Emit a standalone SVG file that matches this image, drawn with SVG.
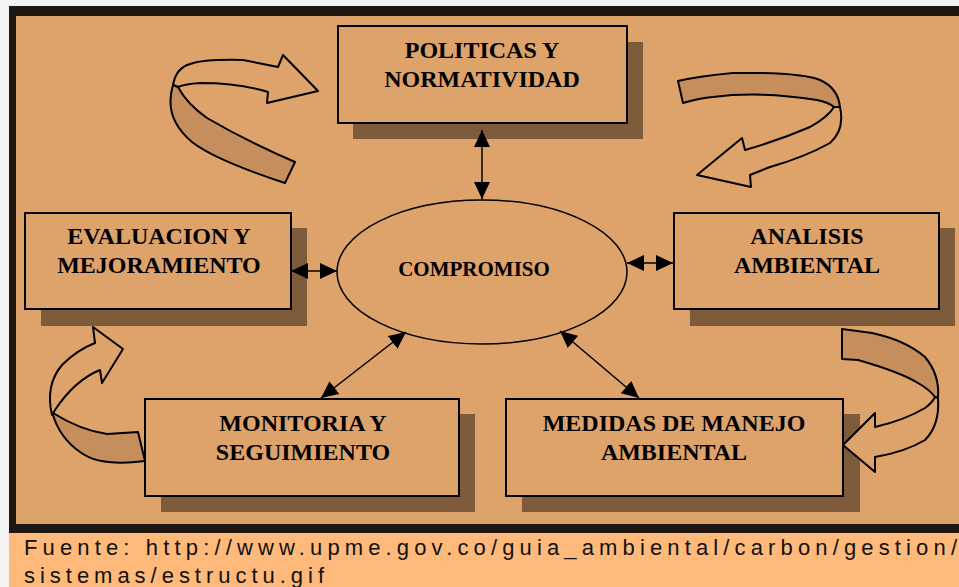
<svg xmlns="http://www.w3.org/2000/svg" width="959" height="587" viewBox="0 0 959 587">
<defs>
<style>
.box{fill:#DEA26B;stroke:#000;stroke-width:2}
.shadow{fill:#7D5B3B}
.lbl{font-family:"Liberation Serif","Times New Roman",serif;font-weight:bold;font-size:24px;fill:#000;text-anchor:middle}
.conn{stroke:#000;stroke-width:1.5;fill:none}
.rib{fill:#C68E5D;stroke:#000;stroke-width:2;stroke-linejoin:round}
.front{fill:#DEA26B;stroke:#000;stroke-width:2;stroke-linejoin:round}
.foot{font-family:"Liberation Sans",Arial,sans-serif;font-size:22px;fill:#111}
</style>
<marker id="ah" viewBox="0 0 17 16" refX="17" refY="8" markerWidth="17" markerHeight="16" markerUnits="userSpaceOnUse" orient="auto-start-reverse">
<path d="M0,0 L17,8 L0,16 Z" fill="#000"/>
</marker>
</defs>
<rect x="0" y="0" width="959" height="587" fill="#F3F3F3"/>
<rect x="9" y="6" width="950" height="527" fill="#1E1610"/>
<rect x="16" y="16" width="943" height="508" fill="#DEA26B"/>
<rect x="9" y="533" width="950" height="54" fill="#FFB97A"/>

<g id="node-politicas">
<rect class="shadow" x="353" y="42" width="290" height="97"/>
<rect class="box" x="338" y="26" width="289" height="97"/>
<text class="lbl" x="482" y="58">POLITICAS Y</text>
<text class="lbl" x="482" y="87">NORMATIVIDAD</text>
</g>

<g id="node-evaluacion">
<rect class="shadow" x="41" y="228" width="266" height="98"/>
<rect class="box" x="25" y="213" width="266" height="96"/>
<text class="lbl" x="159" y="244">EVALUACION Y</text>
<text class="lbl" x="159" y="273">MEJORAMIENTO</text>
</g>

<g id="node-analisis">
<rect class="shadow" x="690" y="228" width="265" height="98"/>
<rect class="box" x="674" y="213" width="265" height="96"/>
<text class="lbl" x="807" y="244">ANALISIS</text>
<text class="lbl" x="807" y="273">AMBIENTAL</text>
</g>

<g id="node-monitoria">
<rect class="shadow" x="161" y="414" width="314" height="98"/>
<rect class="box" x="145" y="399" width="314" height="97"/>
<text class="lbl" x="303" y="431">MONITORIA Y</text>
<text class="lbl" x="303" y="460">SEGUIMIENTO</text>
</g>

<g id="node-medidas">
<rect class="shadow" x="522" y="414" width="338" height="98"/>
<rect class="box" x="506" y="399" width="337" height="97"/>
<text class="lbl" x="674" y="431">MEDIDAS DE MANEJO</text>
<text class="lbl" x="674" y="460">AMBIENTAL</text>
</g>

<g id="node-compromiso">
<ellipse cx="482" cy="272" rx="145" ry="72" fill="#DEA26B" stroke="#000" stroke-width="1.5"/>
<text class="lbl" x="474" y="276" style="font-size:21px">COMPROMISO</text>
</g>

<g id="cycle-arrows">
<path class="front" d="M173,85 Q176,68 190,64 Q205,59 243,60 L278,67 L283,55 L318,91 L267,103 L268,92 Q240,83 200,83 Q185,84 178,87 Z"/>
<path class="rib" d="M173,85 Q163,118 192,142 Q215,160 285,183 L295,162 Q250,143 207,118 Q187,104 178,87 Z"/>
<path class="rib" d="M678,81 L683,103 Q700,98 713,97 Q760,91 817,100 Q830,103 834,107 L840,107 Q838,88 820,80 Q800,72 733,73 Q700,76 678,81 Z"/>
<path class="front" d="M840,107 Q845,130 830,143 Q805,157 770,167 L750,175 L751,187 L697,175 L742,138 L745,150 Q780,140 810,127 Q828,117 834,107 Z"/>
<path class="front" d="M95,343 L93,327 L123,349 L102,383 L100,370 Q75,380 55,410 L52,415 Q45,385 62,365 Q77,350 95,343 Z"/>
<path class="rib" d="M53,413 Q80,430 107,434 L138,432 L145,461 Q100,467 80,452 Q60,438 53,415 Z"/>
<path class="rib" d="M842,329 L842,359 L858,360 Q900,372 918,383 Q930,390 935,397 L938,398 Q940,375 925,357 Q905,340 872,333 Z"/>
<path class="front" d="M938,398 Q940,425 925,440 Q905,452 875,457 L875,472 L843,445 L875,413 L875,427 Q905,420 925,408 Q932,403 935,397 Z"/>
</g>

<g id="connectors">
<line class="conn" x1="482" y1="130" x2="482" y2="199" marker-start="url(#ah)" marker-end="url(#ah)"/>
<line class="conn" x1="291" y1="271" x2="337" y2="271" marker-start="url(#ah)" marker-end="url(#ah)"/>
<line class="conn" x1="627" y1="263" x2="673" y2="263" marker-start="url(#ah)" marker-end="url(#ah)"/>
<line class="conn" x1="406" y1="332" x2="321" y2="398" marker-start="url(#ah)" marker-end="url(#ah)"/>
<line class="conn" x1="560" y1="331" x2="639" y2="398" marker-start="url(#ah)" marker-end="url(#ah)"/>
</g>

<g id="footer">
<text class="foot" x="24" y="555" textLength="933" lengthAdjust="spacing">Fuente: http://www.upme.gov.co/guia_ambiental/carbon/gestion/</text>
<text class="foot" x="24" y="583" textLength="300" lengthAdjust="spacing">sistemas/estructu.gif</text>
</g>
</svg>
